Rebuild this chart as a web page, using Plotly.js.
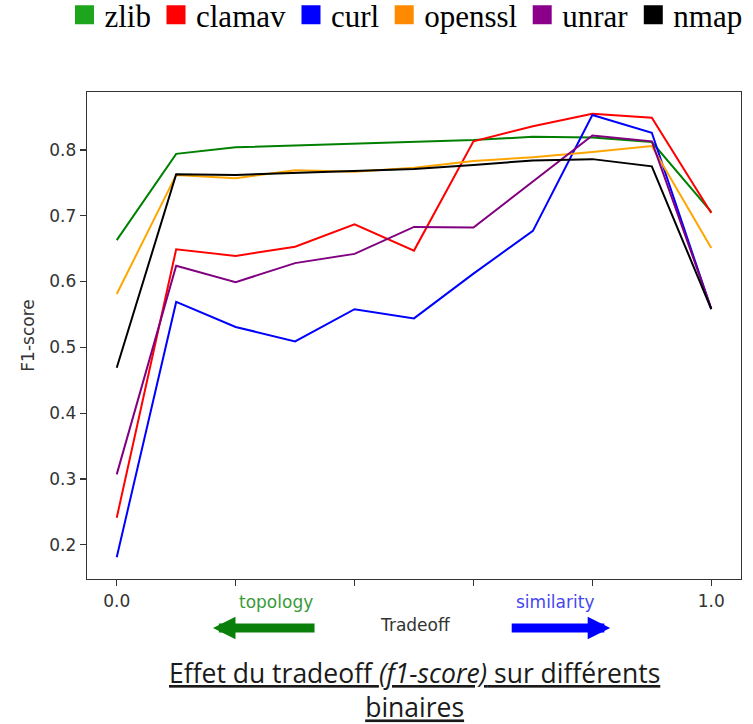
<!DOCTYPE html>
<html>
<head>
<meta charset="utf-8">
<script src="https://cdn.plot.ly/plotly-3.0.1.min.js"></script>
<style>html,body{margin:0;padding:0;background:#fff;}#chart{width:753px;height:724px;}</style>
</head>
<body>
<div id="chart"></div>
<script>
// Data
const tradeoff = [0.0, 0.1, 0.2, 0.3, 0.4, 0.5, 0.6, 0.7, 0.8, 0.9, 1.0];
const seriesNames = ["zlib", "clamav", "curl", "openssl", "unrar", "nmap"];
const zlib    = [0.663, 0.794, 0.804, 0.807, 0.809, 0.812, 0.815, 0.820, 0.819, 0.812, 0.706];
const clamav  = [0.241, 0.649, 0.639, 0.653, 0.687, 0.647, 0.813, 0.836, 0.855, 0.849, 0.704];
const curl    = [0.181, 0.569, 0.531, 0.509, 0.558, 0.544, 0.612, 0.677, 0.853, 0.826, 0.558];
const openssl = [0.581, 0.762, 0.757, 0.769, 0.767, 0.773, 0.783, 0.789, 0.797, 0.806, 0.651];
const unrar   = [0.307, 0.624, 0.599, 0.628, 0.642, 0.683, 0.682, 0.752, 0.822, 0.813, 0.559];
const nmap    = [0.469, 0.763, 0.762, 0.765, 0.768, 0.771, 0.777, 0.784, 0.786, 0.775, 0.558];
const xTickVals = [0.0, 0.2, 0.4, 0.6, 0.8, 1.0];
const xTickText = ["0.0", "", "", "", "", "1.0"];
const yTickVals = [0.2, 0.3, 0.4, 0.5, 0.6, 0.7, 0.8];

const values = [zlib, clamav, curl, openssl, unrar, nmap];
const lineColors = ["#008000", "#ff0000", "#0000ff", "#ffa500", "#800080", "#000000"];
const legendColors = ["#1ea51e", "#ff0000", "#0000ff", "#ff8a00", "#8a008a", "#000000"];

const traces = [];
values.forEach((v, i) => {
  traces.push({
    x: tradeoff, y: v, type: "scatter", mode: "lines", name: seriesNames[i],
    line: {color: lineColors[i], width: 2}, showlegend: false, hoverinfo: "x+y+name"
  });
});
seriesNames.forEach((n, i) => {
  traces.push({
    x: [null], y: [null], type: "scatter", mode: "markers", name: n,
    marker: {symbol: "square", size: 16, color: legendColors[i], line: {color: legendColors[i], width: 3}},
    showlegend: true
  });
});

const axisCommon = {
  showgrid: false, zeroline: false, showline: true, mirror: true,
  linecolor: "#333", linewidth: 1.3, ticks: "outside", ticklen: 6, tickwidth: 1.3, tickcolor: "#333",
  tickfont: {family: "DejaVu Sans", size: 17, color: "#333"}
};

const layout = {
  width: 753, height: 724,
  margin: {l: 87, r: 12, t: 92, b: 145, autoexpand: false},
  paper_bgcolor: "#fff", plot_bgcolor: "#fff",
  showlegend: true,
  legend: {
    orientation: "h", xref: "paper", x: -0.0344, xanchor: "left", yref: "paper", y: 1.2136, yanchor: "top",
    font: {family: "Liberation Serif", size: 31, color: "#000"},
    itemsizing: "trace", bgcolor: "rgba(0,0,0,0)", tracegroupgap: 0
  },
  xaxis: Object.assign({}, axisCommon, {
    range: [-0.05, 1.05], tickmode: "array", tickvals: xTickVals, ticktext: xTickText
  }),
  yaxis: Object.assign({}, axisCommon, {
    range: [0.148, 0.888], tickmode: "array", tickvals: yTickVals, tickformat: ".1f",
    title: {text: "F1-score", font: {family: "DejaVu Sans", size: 17, color: "#333"}, standoff: 10}
  }),
  annotations: [
    {xref: "paper", yref: "paper", x: 0.502, y: -0.095, text: "Tradeoff", showarrow: false,
     font: {family: "DejaVu Sans", size: 17, color: "#333"}, xanchor: "center", yanchor: "middle"},
    {xref: "paper", yref: "paper", x: 0.289, y: -0.047, text: "topology", showarrow: false,
     font: {family: "DejaVu Sans", size: 17, color: "#3a9a3a"}, xanchor: "center", yanchor: "middle"},
    {xref: "paper", yref: "paper", x: 0.716, y: -0.047, text: "similarity", showarrow: false,
     font: {family: "DejaVu Sans", size: 17, color: "#4646f0"}, xanchor: "center", yanchor: "middle"},
    {xref: "paper", yref: "paper", x: 0.1927, y: -0.1006, ax: 103, ay: 0, text: "", showarrow: true,
     arrowhead: 2, arrowsize: 0.5, arrowwidth: 9, arrowcolor: "#0a800a", standoff: 0, startstandoff: 0},
    {xref: "paper", yref: "paper", x: 0.8, y: -0.1006, ax: -100, ay: 0, text: "", showarrow: true,
     arrowhead: 2, arrowsize: 0.5, arrowwidth: 9, arrowcolor: "#0000ff", standoff: 0, startstandoff: 0},
    {xref: "paper", yref: "paper", x: 0.5, y: -0.227, yanchor: "middle", xanchor: "center",
     text: "<u>Effet du tradeoff <i>(f1-score)</i> sur différents</u><br><u>binaires</u>",
     showarrow: false, font: {family: "Open Sans", size: 26.5, color: "#1a1a1a"}}
  ]
};

Plotly.newPlot("chart", traces, layout, {displayModeBar: false, staticPlot: true});
</script>
</body>
</html>
